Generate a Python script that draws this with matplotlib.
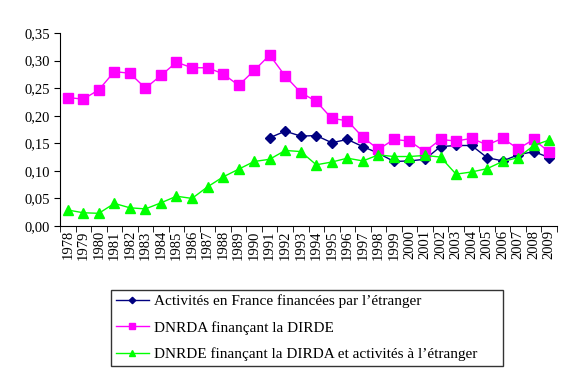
import numpy as np
import matplotlib
matplotlib.use('Agg')
import matplotlib.pyplot as plt
from matplotlib.ticker import FuncFormatter

years = [str(y) for y in range(1978, 2010)]

# Activités en France financées par l'étranger (from 1991 only)
etranger = [np.nan] * 13 + [0.160, 0.172, 0.163, 0.164, 0.151, 0.157, 0.144, 0.132,
                            0.117, 0.118, 0.121, 0.144, 0.146, 0.146, 0.124, 0.118,
                            0.129, 0.135, 0.124]
# DNRDA finançant la DIRDE
dnrda = [0.233, 0.230, 0.247, 0.280, 0.277, 0.250, 0.273, 0.297, 0.287, 0.287,
         0.276, 0.255, 0.282, 0.310, 0.272, 0.242, 0.226, 0.195, 0.191, 0.161,
         0.139, 0.157, 0.154, 0.135, 0.157, 0.154, 0.159, 0.147, 0.159, 0.140,
         0.157, 0.134]
# DNRDE finançant la DIRDA et activités à l'étranger
dnrde = [0.029, 0.024, 0.023, 0.041, 0.033, 0.031, 0.042, 0.054, 0.050, 0.071,
         0.089, 0.103, 0.117, 0.121, 0.137, 0.135, 0.111, 0.116, 0.123, 0.118,
         0.129, 0.126, 0.126, 0.128, 0.125, 0.094, 0.098, 0.104, 0.117, 0.124,
         0.146, 0.156]

labels = ["Activités en France financées par l\u2019étranger",
          "DNRDA finançant la DIRDE",
          "DNRDE finançant la DIRDA et activités à l\u2019étranger"]

fig = plt.figure(figsize=(5.74, 3.77), dpi=100)
ax = fig.add_axes([60/574, 1 - 226/377, 497/574, 193/377])

x = np.arange(len(years))
ax.plot(x, etranger, color='#000080', marker='D', markersize=5, linewidth=1, label=labels[0])
ax.plot(x, dnrda, color='#FF00FF', marker='s', markersize=6.5, linewidth=1, label=labels[1])
ax.plot(x, dnrde, color='#00FF00', marker='^', markersize=7.5, linewidth=1, label=labels[2])

ax.set_xlim(-0.5, len(years) - 0.5)
ax.set_ylim(0, 0.35)
ax.set_yticks(np.arange(0, 0.351, 0.05))
ax.yaxis.set_major_formatter(FuncFormatter(lambda v, p: f"{v:.2f}".replace('.', ',')))

ax.set_xticks(x)
ax.set_xticklabels(years, rotation=90, fontsize=10.5, family='Liberation Serif')
ax.tick_params(axis='x', which='major', length=0, pad=3)
ax.set_xticks(np.arange(-0.5, len(years)), minor=True)
ax.tick_params(axis='x', which='minor', length=4, direction='out')
ax.tick_params(axis='y', labelsize=10.5, length=4, pad=3)
for t in ax.get_yticklabels():
    t.set_family('Liberation Serif')

for s in ['top', 'right']:
    ax.spines[s].set_visible(False)

leg = fig.legend(loc='lower left', bbox_to_anchor=(111/574, 1 - 366/377, 392/574, 81/377),
                 mode='expand', frameon=True, fancybox=False, edgecolor='black',
                 prop={'family': 'Liberation Serif', 'size': 11},
                 handlelength=2.2, handletextpad=0.3, borderpad=0.3,
                 markerscale=0.65, borderaxespad=0, labelspacing=0.85)
leg.get_frame().set_linewidth(1)

plt.savefig('out.png', dpi=100)
